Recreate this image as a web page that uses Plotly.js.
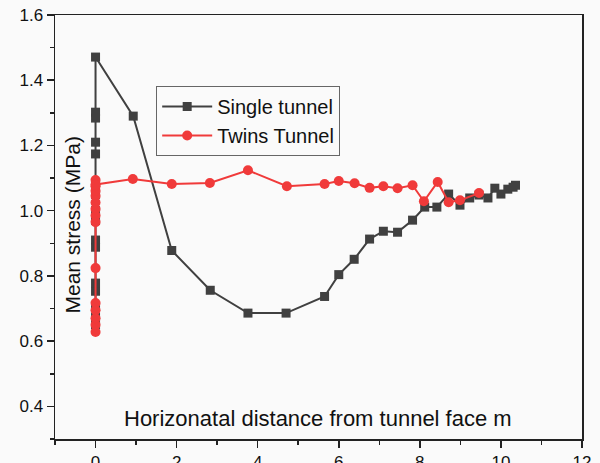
<!DOCTYPE html>
<html>
<head>
<meta charset="utf-8">
<script src="https://cdn.plot.ly/plotly-3.0.1.min.js"></script>
<style>html,body{margin:0;padding:0;background:#fafafa;}#chart{width:600px;height:463px;}</style>
</head>
<body>
<div id="chart"></div>
<script>
var singleX = [0,0,0,0,0,0,0,0,0,0,0,0,0,0,0,0,
  0.93,1.88,2.83,3.76,4.7,5.65,6.0,6.38,6.76,7.1,7.45,7.82,8.12,8.42,8.71,8.99,9.23,9.46,9.68,9.85,10.0,10.17,10.3,10.36];
var singleY = [0.65,0.674,0.705,0.753,0.778,0.888,0.91,0.97,1.0,1.05,1.08,1.174,1.21,1.284,1.302,1.471,
  1.29,0.878,0.756,0.686,0.686,0.737,0.804,0.851,0.913,0.937,0.934,0.971,1.011,1.011,1.051,1.017,1.039,1.048,1.039,1.069,1.051,1.066,1.072,1.078];
var twinsX = [0,0,0,0,0,0,0,0,0,0,0,0,0,0,0,
  0.92,1.88,2.82,3.76,4.72,5.65,6.0,6.39,6.76,7.1,7.45,7.82,8.1,8.44,8.71,8.99,9.46];
var twinsY = [0.628,0.65,0.67,0.695,0.717,0.824,0.965,0.985,1.005,1.025,1.045,1.06,1.075,1.094,1.08,
  1.097,1.082,1.085,1.124,1.075,1.082,1.091,1.084,1.07,1.075,1.069,1.078,1.029,1.088,1.026,1.032,1.054];
var seriesNames = ["Single tunnel", "Twins Tunnel"];
var xTitle = "Horizonatal distance from tunnel face m";
var yTitle = "Mean stress (MPa)";

var FONT = "Liberation Sans, Arial, sans-serif";
var traces = [
  {x: singleX, y: singleY, name: seriesNames[0], type: "scatter", mode: "lines+markers",
   line: {color: "#404040", width: 2}, marker: {symbol: "square", size: 9, color: "#404040"}},
  {x: twinsX, y: twinsY, name: seriesNames[1], type: "scatter", mode: "lines+markers",
   line: {color: "#f03a3a", width: 2}, marker: {symbol: "circle", size: 10, color: "#f03a3a"}}
];
var axisCommon = {
  showgrid: false, zeroline: false, showline: true, linecolor: "#222", linewidth: 1.5,
  mirror: true, ticks: "outside", ticklen: 7, tickwidth: 1.5, tickcolor: "#222",
  tickfont: {family: FONT, size: 17, color: "#111"}
};
var layout = {
  width: 600, height: 463,
  margin: {l: 55, r: 18, t: 15, b: 24},
  paper_bgcolor: "#fafafa", plot_bgcolor: "#fafafa",
  showlegend: true,
  legend: {x: 0.192, y: (439-86)/424, xanchor: "left", yanchor: "top",
    bordercolor: "#666", borderwidth: 1, bgcolor: "rgba(255,255,255,0)",
    font: {family: FONT, size: 20, color: "#111"}, itemwidth: 50, tracegroupgap: 0},
  xaxis: Object.assign({}, axisCommon, {range: [-1, 12], dtick: 2, tick0: 0,
    minor: {dtick: 1, ticks: "outside", ticklen: 4, tickcolor: "#222", tickwidth: 1.5}}),
  yaxis: Object.assign({}, axisCommon, {range: [0.3, 1.6], dtick: 0.2, tick0: 0.4, tickformat: ".1f",
    minor: {dtick: 0.1, ticks: "outside", ticklen: 4, tickcolor: "#222", tickwidth: 1.5}}),
  annotations: [
    {text: xTitle, xref: "paper", yref: "paper", x: (318-55)/527, y: (439-418)/424,
     xanchor: "center", yanchor: "middle", showarrow: false,
     font: {family: FONT, size: 22, color: "#111"}},
    {text: yTitle, xref: "paper", yref: "paper", x: (72.5-55)/527, y: (439-225)/424,
     xanchor: "center", yanchor: "middle", showarrow: false, textangle: -90,
     font: {family: FONT, size: 21, color: "#111"}}
  ]
};
Plotly.newPlot("chart", traces, layout, {displayModeBar: false, staticPlot: true});
</script>
</body>
</html>
